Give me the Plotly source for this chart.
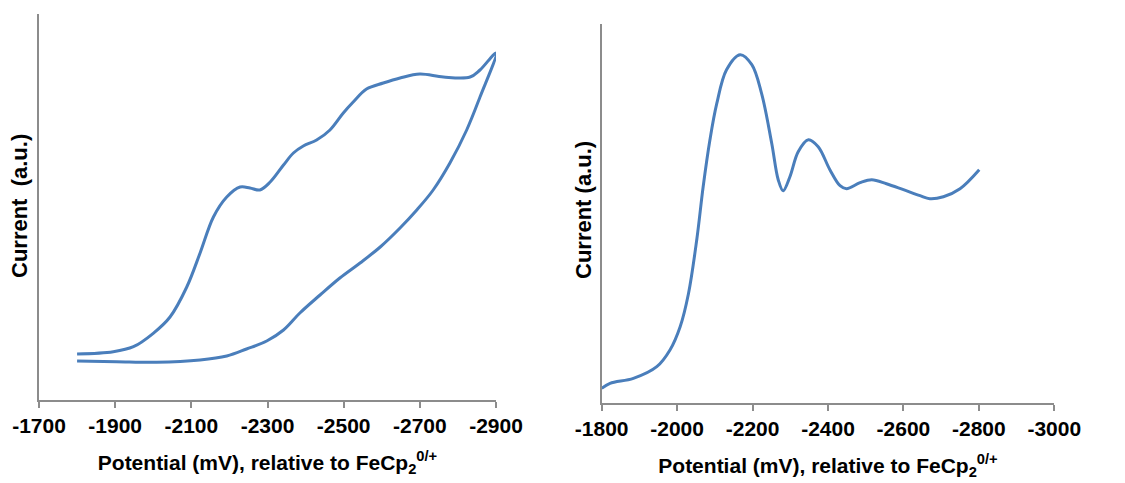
import plotly.graph_objects as go

# Left panel: cyclic voltammogram (a.u.)
cv_potential = [-1800, -1895, -1948, -2000, -2044, -2088, -2123, -2158, -2193, -2228, -2254, -2280,
                -2307, -2342, -2368, -2394, -2429, -2464, -2499, -2525, -2560, -2604, -2648, -2700,
                -2762, -2832, -2858, -2900,
                -2858, -2823, -2779, -2735, -2692, -2648, -2596, -2543, -2490, -2438, -2385, -2342,
                -2298, -2245, -2193, -2123, -2009, -1904, -1800]
cv_current = [46, 48.3, 53.3, 66.7, 83, 113, 147, 183, 203, 213, 212, 210,
              218, 235, 247, 254, 260, 270, 287, 298, 311, 317, 322, 326,
              323, 323, 330, 347,
              303, 270, 237, 210, 190, 172, 153, 137, 122, 105, 87, 70,
              59, 51, 44, 40, 37.7, 38.3, 39]

# Right panel: differential pulse voltammogram (a.u.)
dpv_potential = [-1800, -1822, -1884, -1946, -1981, -2008, -2030, -2052, -2069, -2087, -2105, -2131,
                 -2167, -2198, -2224, -2251, -2268, -2281, -2299, -2321, -2348, -2374, -2405, -2432,
                 -2449, -2485, -2516, -2555, -2600, -2644, -2670, -2706, -2750, -2801]
dpv_current = [14.3, 19.3, 24.3, 36, 52.7, 76, 109, 163, 216, 263, 299, 333,
               348, 338, 309, 259, 223, 212, 226, 251, 263, 256, 233, 217,
               214, 220, 223, 219, 213, 207, 204, 206, 214, 233]

left_ticks = [-1700, -1900, -2100, -2300, -2500, -2700, -2900]
right_ticks = [-1800, -2000, -2200, -2400, -2600, -2800, -3000]

W, H = 1125, 483
LINE = "#4a7ebb"
AXIS = "#8c8c8c"
FONT = "Liberation Sans, Arial, sans-serif"

fig = go.Figure()
fig.add_trace(go.Scatter(x=cv_potential, y=cv_current, mode="lines",
                         line=dict(color=LINE, width=3, shape="spline", smoothing=1.0),
                         xaxis="x", yaxis="y", showlegend=False))
fig.add_trace(go.Scatter(x=dpv_potential, y=dpv_current, mode="lines",
                         line=dict(color=LINE, width=3, shape="spline", smoothing=1.0),
                         xaxis="x2", yaxis="y2", showlegend=False))

xtitle = "Potential (mV), relative to FeCp<sub>2</sub><sup>0/+</sup>"

def xax(domain, rng, ticks):
    return dict(domain=domain, range=rng, tickvals=ticks, ticktext=[str(t) for t in ticks],
                showline=True, linecolor=AXIS, linewidth=2, ticks="outside", ticklen=6,
                tickwidth=2, tickcolor=AXIS, showgrid=False, zeroline=False, automargin=False,
                tickfont=dict(family=FONT, size=21, color="black", weight="bold"),
                title=dict(text=xtitle, font=dict(family=FONT, size=21, color="black", weight="bold"),
                           standoff=19))

def yax(domain, rng, anchor):
    return dict(domain=domain, range=rng, showline=True, linecolor=AXIS, linewidth=2,
                showticklabels=False, ticks="", showgrid=False, zeroline=False, anchor=anchor,
                automargin=False)

fig.update_layout(
    width=W, height=H, margin=dict(l=0, r=0, t=0, b=0, autoexpand=False),
    paper_bgcolor="white", plot_bgcolor="white",
    xaxis=dict(**xax([39 / W, 496 / W], [-1700, -2900], left_ticks), anchor="y"),
    yaxis=yax([(H - 400) / H, (H - 14) / H], [0, 386], "x"),
    xaxis2=dict(**xax([601.7 / W, 1054.3 / W], [-1800, -3000], right_ticks), anchor="y2"),
    yaxis2=yax([(H - 402.7) / H, (H - 24) / H], [0, 378.7], "x2"),
    annotations=[
        dict(text="Current  (a.u.)", textangle=-90, xref="paper", yref="paper",
             x=19 / W, y=(H - 206) / H, xanchor="center", yanchor="middle", showarrow=False,
             font=dict(family=FONT, size=22, color="black", weight="bold")),
        dict(text="Current (a.u.)", textangle=-90, xref="paper", yref="paper",
             x=583 / W, y=(H - 210) / H, xanchor="center", yanchor="middle", showarrow=False,
             font=dict(family=FONT, size=22, color="black", weight="bold")),
    ],
)

fig.write_html("out.html")
